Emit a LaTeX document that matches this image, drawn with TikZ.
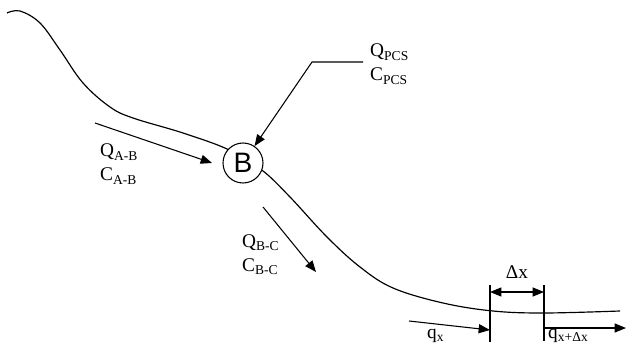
\documentclass[tikz,border=0pt]{standalone}
\usepackage{fontspec}
\setmainfont{Liberation Serif}
\newfontfamily\nodefont{Liberation Sans}
\usetikzlibrary{arrows.meta}

\begin{document}
\begin{tikzpicture}[
  x=0.03cm, y=-0.03cm,
  >={Triangle[length=3.4mm, width=2.7mm]},
  river/.style={line width=1pt, black},
  arr/.style={->, line width=0.9pt, black},
  tick/.style={line width=0.9pt, black},
  junction/.style={
    draw, circle, line width=0.9pt, fill=white, minimum size=1.2cm,
    inner sep=0pt, font=\nodefont\fontsize{24}{28}\selectfont
  },
  flowlabel/.style={
    anchor=base west, inner sep=0pt, font=\fontsize{16.5}{20}\selectfont
  },
]

% ============================================================
% Frame
% ============================================================
\useasboundingbox (0,0) rectangle (627,347);

% ============================================================
% River line
% ============================================================
\draw[river] plot[smooth, tension=0.6] coordinates {
  (7,13) (20,11) (40,23) (60,50) (83,83) (110,107) (133,118)
  (183,133) (227,149) (243,162) (263,171) (290,197) (327,237)
  (360,267) (393,288) (443,303) (493,311) (544,313) (620,311)};

% --- Junction B ---
\node[junction] (B) at (243,163) {B};

% ============================================================
% Inflow from PCS
% ============================================================
\coordinate (pcs-start) at (363,62);
\coordinate (pcs-bend) at (312,62);
\draw[arr] (pcs-start) -- (pcs-bend) -- (B);
\node[flowlabel] (q-pcs) at (370,57) {Q\textsubscript{PCS}};
\node[flowlabel] (c-pcs) at (370,81) {C\textsubscript{PCS}};

% ============================================================
% Flow A-B
% ============================================================
\coordinate (ab-start) at (95,123);
\coordinate (ab-end) at (212,163);
\draw[arr] (ab-start) -- (ab-end);
\node[flowlabel] (q-ab) at (100,157) {Q\textsubscript{A-B}};
\node[flowlabel] (c-ab) at (100,181) {C\textsubscript{A-B}};

% ============================================================
% Flow B-C
% ============================================================
\coordinate (bc-start) at (263,207);
\coordinate (bc-end) at (316,272);
\draw[arr] (bc-start) -- (bc-end);
\node[flowlabel] (q-bc) at (242,247) {Q\textsubscript{B-C}};
\node[flowlabel] (c-bc) at (242,271) {C\textsubscript{B-C}};

% ============================================================
% Element dx
% ============================================================
\coordinate (dx-l-top) at (490,285);
\coordinate (dx-l-bot) at (490,342);
\coordinate (dx-r-top) at (544,285);
\coordinate (dx-r-bot) at (544,341);
\draw[tick] (dx-l-top) -- (dx-l-bot);
\draw[tick] (dx-r-top) -- (dx-r-bot);
\draw[arr, <->] (dx-l-top |- 0,292) -- (dx-r-top |- 0,292);
\node[flowlabel, anchor=base] (dx) at (517,278) {Δx};

% --- Flux in ---
\coordinate (qx-start) at (409,321);
\draw[arr] (qx-start) -- (dx-l-top |- 0,330);
\node[flowlabel] (qx) at (427,338) {q\textsubscript{x}};

% --- Flux out ---
\coordinate (qdx-end) at (626,328);
\draw[arr] (dx-r-top |- qdx-end) -- (qdx-end);
\node[flowlabel] (qdx) at (548,338) {q\textsubscript{x+Δx}};

\end{tikzpicture}
\end{document}
